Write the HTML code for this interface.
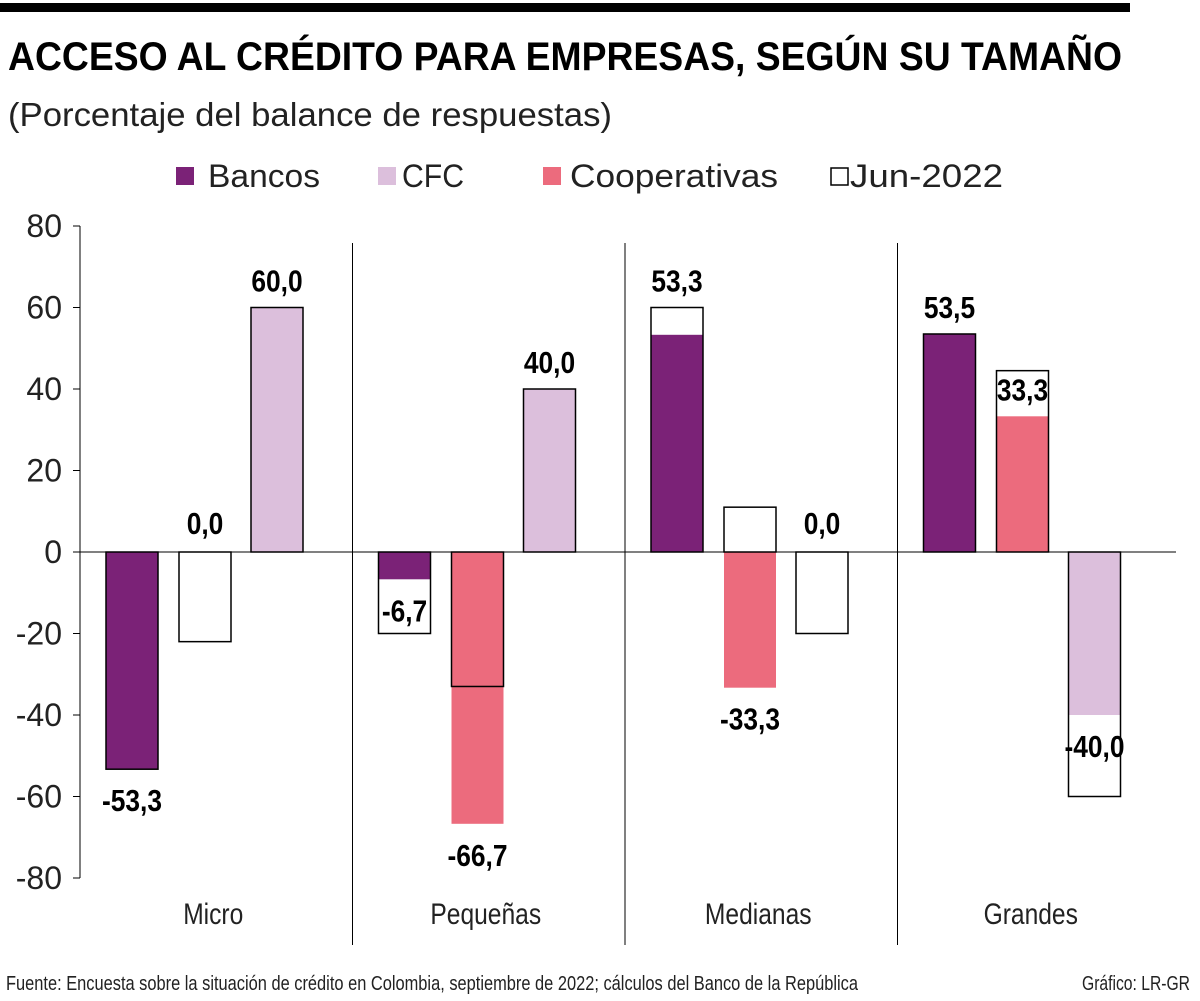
<!DOCTYPE html>
<html><head><meta charset="utf-8">
<style>
html,body{margin:0;padding:0;background:#fff;}
svg{display:block;font-family:"Liberation Sans",sans-serif;}
</style></head>
<body>
<svg id="chart" width="1200" height="1001" viewBox="0 0 1200 1001" xmlns="http://www.w3.org/2000/svg">
<rect x="0" y="3" width="1130" height="9" fill="#000"/>
<text x="8" y="70" font-size="40" font-weight="bold" textLength="1114" lengthAdjust="spacingAndGlyphs">ACCESO AL CRÉDITO PARA EMPRESAS, SEGÚN SU TAMAÑO</text>
<text x="8" y="126" font-size="33" fill="#222" textLength="604" lengthAdjust="spacingAndGlyphs">(Porcentaje del balance de respuestas)</text>
<g font-size="32" fill="#222">
  <g><rect x="176" y="167" width="18" height="18" fill="#7b2277"/><text x="208" y="187" textLength="112" lengthAdjust="spacingAndGlyphs">Bancos</text></g>
  <g><rect x="378" y="167" width="18" height="18" fill="#dcbfdc"/><text x="402" y="187" textLength="62" lengthAdjust="spacingAndGlyphs">CFC</text></g>
  <g><rect x="543" y="167" width="18" height="18" fill="#ec6b7d"/><text x="570" y="187" textLength="208" lengthAdjust="spacingAndGlyphs">Cooperativas</text></g>
  <g><rect x="831" y="168" width="17" height="17" fill="#fff" stroke="#000" stroke-width="1.5"/><text x="850" y="187" textLength="153" lengthAdjust="spacingAndGlyphs">Jun-2022</text></g>
</g>
<g id="plot"></g>
<text x="6" y="990" font-size="20" fill="#222" textLength="852" lengthAdjust="spacingAndGlyphs">Fuente: Encuesta sobre la situación de crédito en Colombia, septiembre de 2022; cálculos del Banco de la República</text>
<text x="1190" y="990" font-size="20" fill="#222" text-anchor="end" textLength="108" lengthAdjust="spacingAndGlyphs">Gráfico: LR-GR</text>
</svg>
<script>
const categories = ["Micro","Pequeñas","Medianas","Grandes"];
const series = ["Bancos","Cooperativas","CFC"];
const bancos = [-53.3, -6.7, 53.3, 53.5];
const cooperativas = [0, -66.7, -33.3, 33.3];
const cfc = [60, 40, 0, -40];
const junBancos = [-53.3, -20, 60, 53.5];
const junCooperativas = [-22, -33, 11, 44.5];
const junCfc = [60, 40, -20, -60];
const yTicks = [80, 60, 40, 20, 0, -20, -40, -60, -80];

const NS = "http://www.w3.org/2000/svg";
const plot = document.getElementById("plot");
const X0 = 80, GW = 272.5, Y_TOP = 226, Y_BOT = 878;
function y(v){ return Y_TOP + (80 - v) * (Y_BOT - Y_TOP) / 160; }
function gx(i){ return X0 + i * GW; }
const slotOff = [26, 99, 171], BW = 52;
const colors = ["#7b2277", "#ec6b7d", "#dcbfdc"];
const vals = [bancos, cooperativas, cfc];
const juns = [junBancos, junCooperativas, junCfc];
function mk(tag, attrs){ const e = document.createElementNS(NS, tag); for (const k in attrs) e.setAttribute(k, attrs[k]); plot.appendChild(e); return e; }
function fmt(v){ return v.toFixed(1).replace(".", ","); }

let ax = mk("line", {x1:X0, x2:X0, y1:Y_TOP, y2:Y_BOT, stroke:"#000", "stroke-width":1});


yTicks.forEach(t => {
  const tk = mk("line", {x1:X0-7, x2:X0, y1:y(t), y2:y(t), stroke:"#000", "stroke-width":1});
  
  
  const lb = mk("text", {x:62, y:y(t)+11, "font-size":32, "text-anchor":"end", fill:"#222"});
  lb.textContent = t;
  
  
});
categories.forEach((c, i) => {
  if (i > 0) {
    const s = mk("line", {x1:gx(i), x2:gx(i), y1:243, y2:945, stroke:"#000", "stroke-width":1});
    
    
  }
  const t = mk("text", {"font-size":30, "text-anchor":"middle", fill:"#222", transform:"translate(" + (gx(i)+GW/2-3) + ",924) scale(0.82,1)"});
  t.textContent = c;
  
  
});
categories.forEach((c, i) => {
  for (let s = 0; s < 3; s++) {
    const x = gx(i) + slotOff[s];
    const v = vals[s][i], j = juns[s][i];
    const jr = mk("rect", {x:x, y:Math.min(y(0), y(j)), width:BW, height:Math.abs(y(j)-y(0)), fill:"#fff"});
    
    
    const b = mk("rect", {x:x, y:Math.min(y(0), y(v)), width:BW, height:Math.abs(y(v)-y(0)), fill:colors[s]});
    
    
    const jo = mk("rect", {x:x, y:Math.min(y(0), y(j)), width:BW, height:Math.abs(y(j)-y(0)), fill:"none", stroke:"#000", "stroke-width":1.5});
    
    
    let cy;
    if (v > 0) { const top = (j > v && j - v < 10) ? j : v; cy = y(top) - 27; }
    else if (v === 0) cy = y(0) - 29;
    else cy = y(v) + 31;
    const lt = mk("text", {"font-size":31, "font-weight":"bold", "text-anchor":"middle", fill:"#000", transform:"translate(" + (x + BW/2) + "," + (cy + 11) + ") scale(0.85,1)"});
    lt.textContent = fmt(v);
    
    
  }
});
let zl = mk("line", {x1:X0, x2:1176, y1:y(0), y2:y(0), stroke:"#000", "stroke-width":1});


</script>
</body></html>
